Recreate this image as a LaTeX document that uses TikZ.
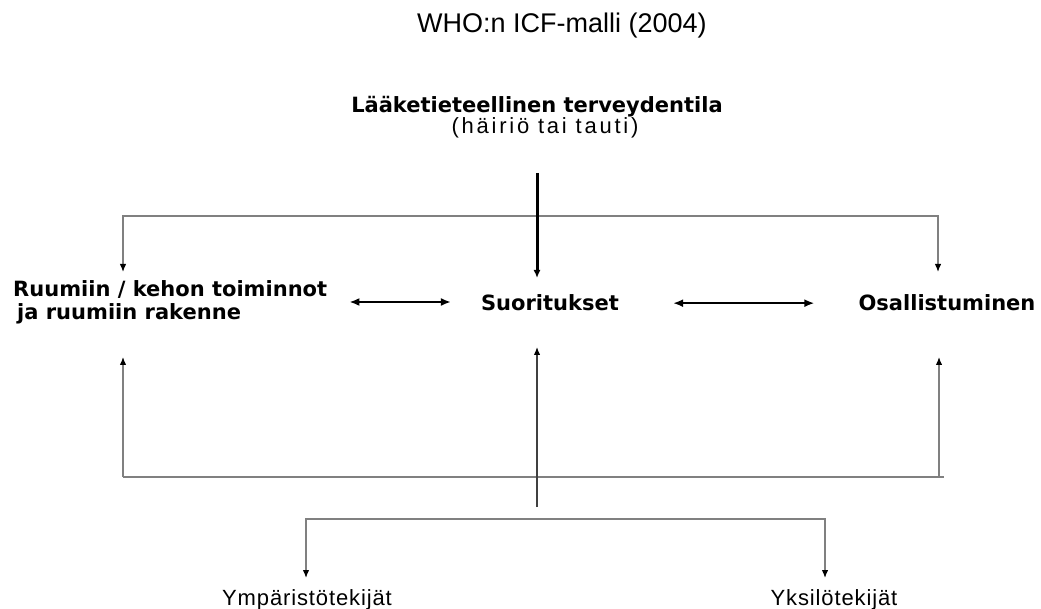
\documentclass[tikz,border=0pt]{standalone}
\usepackage{fontspec}
\setmainfont{Liberation Sans}
\newfontfamily\headfont{DejaVu Sans}
\newfontfamily\wideA[LetterSpace=12.5]{Liberation Sans}
\newfontfamily\wideB[LetterSpace=4]{Liberation Sans}
\usetikzlibrary{arrows.meta}

\begin{document}
\begin{tikzpicture}[x=1pt, y=-1pt,
    feed/.style={draw=gray, line width=1.3pt, >={Latex[color=black, length=8pt, width=6.5pt]}},
    cause/.style={line width=3pt, -{Latex[length=8pt, width=7pt]}},
    link/.style={line width=2.5pt, {Latex[length=10pt, width=8pt]}-{Latex[length=10pt, width=8pt]}},
    head/.style={font=\headfont\bfseries\fontsize{21}{23}\selectfont, inner sep=0pt},
    factor/.style={font=\wideB\fontsize{22}{26}\selectfont, inner sep=0pt}]
    \useasboundingbox (0,0) rectangle (1041,609);

    % Otsikko
    \node[font=\fontsize{27}{31}\selectfont, inner sep=0pt, anchor=base] (title) at (562,33) {WHO:n ICF-malli (2004)};

    % Terveydentila
    \node[head, font=\headfont\bfseries\fontsize{21}{23}\selectfont, anchor=base] (health) at (537,113) {Lääketieteellinen terveydentila};
    \node[font=\wideA\fontsize{22}{26}\selectfont, inner sep=0pt, anchor=base] (cond) at (545,134) {(häiriö tai tauti)};

    % Osa-alueet
    \node[head, align=left, anchor=west] (body) at (13,302) {Ruumiin / kehon toiminnot\\\hspace{4pt}ja ruumiin rakenne};
    \node[head, anchor=base] (act) at (550,311) {Suoritukset};
    \node[head, anchor=base] (part) at (947,311) {Osallistuminen};

    % Kontekstuaaliset tekijat
    \node[factor, anchor=base] (env) at (307,605) {Ympäristötekijät};
    \node[factor, anchor=base] (pers) at (834,605) {Yksilötekijät};

    % Liitoskohdat
    \coordinate (stem) at (537,173);
    \coordinate (top) at (537,216);
    \coordinate (actin) at (537,278);
    \coordinate (bodyin) at (123,272);
    \coordinate (partin) at (938,272);
    \coordinate (bodyup) at (123,357);
    \coordinate (actup) at (537,347);
    \coordinate (partup) at (939,357);
    \coordinate (mid) at (537,477);
    \coordinate (lowstem) at (537,507);
    \coordinate (low) at (537,519);
    \coordinate (envin) at (306,578);
    \coordinate (persin) at (825,578);

    % Ylaosa
    \draw[feed, <->] (bodyin) -- (bodyin |- top) -- (partin |- top) -- (partin);
    \draw[cause] (stem) -- (actin);

    % Vuorovaikutus
    \draw[link, shorten <=22pt, shorten >=30pt] (body.east) -- (body.east -| act.west);
    \draw[link, shorten <=54pt, shorten >=44pt] (act.east) -- (part.west);

    % Alaosa
    \draw[feed] (bodyup |- mid) -- ([xshift=5pt]partup |- mid);
    \draw[feed, ->] (bodyup |- mid) -- (bodyup);
    \draw[feed, ->] (partup |- mid) -- (partup);
    \draw[feed, draw=black!75, ->] (lowstem) -- (actup);
    \draw[feed, <->] (envin) -- (envin |- low) -- (persin |- low) -- (persin);
\end{tikzpicture}
\end{document}
